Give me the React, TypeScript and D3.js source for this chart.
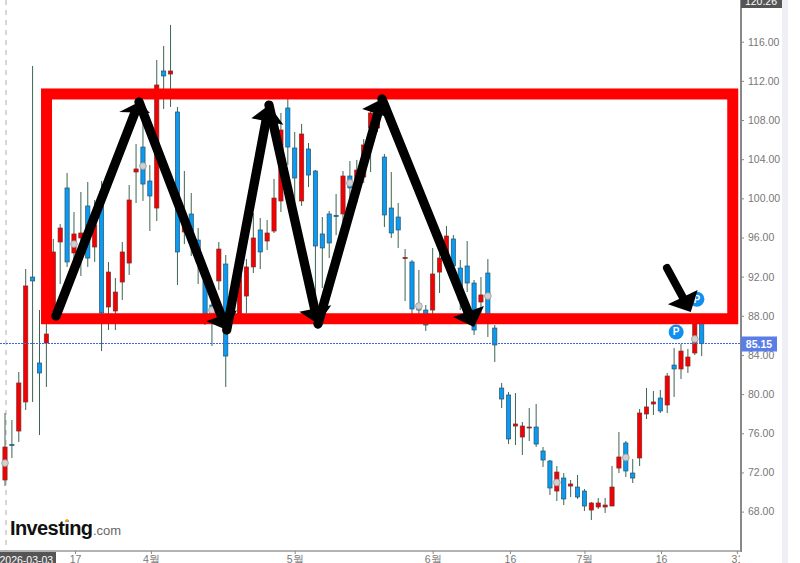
import React, { useEffect, useRef } from 'react';
import * as d3 from 'd3';

// daily candles (red = up, blue = down)
const opens = [
  71.23, 74.85, 76.23, 79.2, 91.96, 83.18, 85.22, 88.39, 95.54, 101.06,
  94.42, 95.95, 99.22, 95.03, 100.65, 88.9, 88.49, 91.45, 93.39, 102.69,
  105.24, 101.77, 99.01, 113.01, 112.7, 108.82, 96.56, 98.4, 95.74, 91.56,
  89.1, 91.56, 93.29, 89.1, 87.98, 90.02, 92.99, 96.77, 95.64, 96.66,
  99.73, 109.23, 105.14, 99.73, 105.04, 102.79, 96.36, 98.4, 98.25, 98.4,
  102.28, 100.85, 102.18, 107.18, 107.18, 104.22, 99.01, 98.09, 93.85, 93.5,
  89.21, 88.59, 88.59, 92.47, 93.7, 95.85, 92.88, 93.09, 91.35, 89.41,
  92.37, 86.75, 80.62, 79.91, 76.74, 75.62, 76.54, 76.64, 74.19, 73.17,
  70.1, 71.43, 70.61, 70.51, 70.1, 68.16, 68.47, 68.47, 68.57, 72.45,
  75.01, 71.94, 73.48, 77.97, 78.99, 79.6, 78.89, 82.97, 82.57, 82.87,
  84.2, 87.9,
];
const closes = [
  74.6, 74.75, 81.14, 91.05, 91.56, 82.16, 86.14, 94.52, 96.97, 93.5,
  96.36, 96.46, 93.9, 97.28, 88.29, 92.47, 90.43, 94.52, 99.83, 103.0,
  101.46, 100.24, 111.58, 112.5, 113.01, 94.52, 97.99, 96.66, 93.5, 87.98,
  88.08, 94.82, 83.89, 89.72, 92.27, 92.99, 95.95, 94.52, 96.46, 100.03,
  106.98, 105.24, 102.08, 106.57, 102.38, 95.13, 94.93, 95.44, 98.15, 102.28,
  101.06, 102.89, 105.45, 108.72, 108.72, 98.3, 96.46, 96.77, 93.95, 88.7,
  88.59, 87.06, 92.27, 93.9, 96.15, 93.09, 89.62, 91.35, 86.55, 90.13,
  88.08, 85.02, 79.5, 75.42, 76.95, 76.74, 76.64, 74.9, 73.27, 70.41,
  72.04, 69.29, 70.82, 69.49, 68.57, 68.88, 68.88, 68.67, 70.51, 73.58,
  72.15, 71.43, 78.07, 78.69, 79.2, 78.28, 81.85, 82.57, 84.4, 83.79,
  87.9, 85.15,
];
const highs = [
  78.07, 77.36, 82.26, 92.78, 113.52, 88.59, 88.39, 95.85, 97.38, 102.59,
  98.6, 100.65, 101.67, 99.83, 101.77, 93.5, 91.86, 95.54, 101.36, 105.55,
  107.98, 103.4, 114.13, 115.56, 117.71, 109.33, 102.79, 100.54, 96.97, 92.68,
  90.64, 95.54, 94.21, 91.45, 93.19, 93.8, 98.5, 97.99, 97.79, 101.98,
  108.72, 110.15, 106.78, 107.59, 105.65, 102.89, 98.09, 98.71, 100.44, 102.79,
  103.81, 103.92, 106.06, 109.23, 109.23, 104.53, 102.69, 99.52, 94.82, 93.7,
  92.68, 89.1, 94.93, 94.93, 97.17, 96.25, 93.7, 95.64, 91.66, 91.96,
  93.8, 87.06, 81.14, 80.22, 80.11, 77.15, 78.58, 78.99, 74.6, 73.27,
  72.66, 71.94, 71.23, 71.74, 70.31, 68.98, 69.39, 69.39, 72.66, 76.13,
  75.21, 73.37, 78.48, 80.62, 80.32, 80.42, 82.16, 84.71, 85.12, 84.61,
  88.0, 88.0,
];
const lows = [
  70.62, 73.48, 75.11, 78.38, 79.2, 75.82, 80.73, 87.98, 91.25, 92.99,
  92.17, 92.07, 92.99, 93.5, 84.4, 86.55, 86.55, 89.62, 92.17, 99.52,
  99.73, 96.66, 97.68, 109.13, 109.33, 91.15, 95.33, 94.11, 91.25, 87.06,
  84.92, 90.64, 80.73, 87.98, 87.57, 88.29, 92.37, 92.78, 94.72, 96.46,
  98.6, 103.4, 99.52, 99.22, 101.16, 88.29, 90.84, 93.9, 96.25, 97.58,
  100.14, 99.52, 101.57, 102.69, 106.78, 97.07, 95.95, 94.93, 89.51, 88.08,
  88.08, 86.45, 88.08, 90.33, 93.19, 91.66, 88.59, 90.43, 86.04, 88.08,
  85.84, 83.28, 78.58, 74.9, 74.8, 73.78, 75.21, 74.6, 72.56, 69.7,
  69.08, 68.67, 69.49, 69.29, 68.06, 67.14, 68.27, 67.86, 68.57, 71.94,
  71.53, 70.92, 72.66, 77.46, 77.87, 78.07, 78.07, 79.71, 81.54, 82.16,
  83.99, 83.89,
];

// grey "D" markers that sit on the candles
const dotIndex = [0, 10, 20, 30, 50, 60, 70, 80, 90, 100];
const dotPrice = [72.96, 95.33, 103.3, 88.59, 101.57, 89.0, 90.02, 70.97, 73.53, 85.63];

// "P" pivot badges
const pivotIndex = [100.3, 97.3];
const pivotPrice = [89.7, 86.35];

const priceTicks = [116, 112, 108, 104, 100, 96, 92, 88, 84, 80, 76, 72, 68];
const timeTickIndex = [10.15, 21.15, 42, 62, 73.2, 84, 95.1, 106.1];
const timeTickLabels = ['17', '4월', '5월', '6월', '16', '7월', '16', '31'];

const lastPrice = 85.15;
const topPrice = '120.26';
const firstDate = '2026-03-03';

// hand drawn box and arrows, as [candle index, price]
const boxLeft = 6.02;
const boxRight = 105.5;
const boxTop = 110.66;
const boxBottom = 87.7;

const arrowStarts = [[7.39, 87.98], [19.43, 109.84], [32.14, 86.55], [38.27, 109.53], [45.38, 87.16], [54.65, 110.15], [95.97, 92.88]];
const arrowTips = [[19.43, 109.84], [32.14, 86.55], [38.27, 109.53], [45.38, 87.16], [54.65, 110.15], [67.99, 86.86], [99.41, 88.39]];
const arrowWingsA = [[16.82, 108.92], [29.43, 87.37], [35.95, 108.31], [42.91, 88.29], [52.04, 109.23], [65.24, 87.78], [96.4, 89.1]];
const arrowWingsB = [[20.88, 108.82], [33.49, 88.39], [40.16, 107.7], [47.12, 88.9], [56.1, 108.31], [69.3, 88.8], [100.32, 90.43]];

const UP = '#f40000';
const DOWN = '#0a9bf0';
const FONT = '"Liberation Sans", Arial, sans-serif';

const x = d3.scaleLinear().domain([0, 101]).range([5, 701.7]);
const y = d3.scaleLinear().domain([116, 68]).range([41.7, 511.6]);

const App: React.FC = () => {
  const yAxisRef = useRef<SVGGElement>(null);
  const xAxisRef = useRef<SVGGElement>(null);

  useEffect(() => {
    const yAxis = d3
      .axisRight(y)
      .tickValues(priceTicks)
      .tickSize(3)
      .tickPadding(4)
      .tickFormat(d => d3.format('.2f')(d as number));
    const yg = d3.select(yAxisRef.current!).call(yAxis as any);
    yg.selectAll('.domain').remove();
    yg.selectAll('line').attr('stroke', '#888');
    yg.selectAll('text').attr('fill', '#777').style('font-size', '10.5px').style('font-family', FONT);

    const xAxis = d3
      .axisBottom(x)
      .tickValues(timeTickIndex)
      .tickSize(3)
      .tickPadding(2)
      .tickFormat((_, i) => timeTickLabels[i]);
    const xg = d3.select(xAxisRef.current!).call(xAxis as any);
    xg.selectAll('.domain').remove();
    xg.selectAll('line').attr('stroke', '#888');
    xg.selectAll('text').attr('fill', '#777').style('font-size', '10.5px').style('font-family', FONT);
  }, []);

  const shaft = (i: number) => {
    const [x0, y0] = [x(arrowStarts[i][0]), y(arrowStarts[i][1])];
    const [x1, y1] = [x(arrowTips[i][0]), y(arrowTips[i][1])];
    const len = Math.hypot(x1 - x0, y1 - y0);
    const t = (len - 10) / len;
    return { x1: x0, y1: y0, x2: x0 + (x1 - x0) * t, y2: y0 + (y1 - y0) * t };
  };

  // wings are pushed out a little from the tip
  const headPoints = (i: number) => {
    const tx = x(arrowTips[i][0]);
    const ty = y(arrowTips[i][1]);
    const wing = (p: number[]) => `${tx + (x(p[0]) - tx) * 1.1},${ty + (y(p[1]) - ty) * 1.1}`;
    return `${wing(arrowWingsA[i])} ${tx},${ty} ${wing(arrowWingsB[i])}`;
  };

  const lastY = Math.floor(y(lastPrice)) + 0.5;

  return (
    <svg
      width={800}
      height={563}
      style={{ position: 'fixed', left: 0, top: 0, background: '#fff' }}
      fontFamily={FONT}
    >
      <defs>
        <clipPath id="time-clip">
          <rect x={0} y={540} width={740} height={23} />
        </clipPath>
      </defs>

      {/* side strip */}
      <rect x={782} y={0} width={6} height={563} fill="#eef0f6" />

      {/* cursor line on the first candle */}
      <line x1={6} x2={6} y1={0} y2={551} stroke="#c9c9c9" strokeWidth={1.5} strokeDasharray="5 5" />

      {/* wicks */}
      {opens.map((_, i) => (
        <line key={i} x1={x(i)} x2={x(i)} y1={y(highs[i])} y2={y(lows[i])} stroke="#3b6650" strokeWidth={1} />
      ))}

      {/* bodies */}
      {opens.map((o, i) => {
        const up = closes[i] >= o;
        const top = y(Math.max(o, closes[i]));
        const bottom = y(Math.min(o, closes[i]));
        return (
          <rect
            key={i}
            x={x(i) - 2.1}
            y={top}
            width={4.2}
            height={Math.max(bottom - top, 1)}
            fill={up ? UP : DOWN}
            stroke={up ? '#7a2a2a' : '#27506e'}
            strokeWidth={0.7}
          />
        );
      })}

      {/* last price line */}
      <line x1={0} x2={741} y1={lastY} y2={lastY} stroke="#3a66e0" strokeWidth={1} strokeDasharray="2 1" />

      {/* markers */}
      {dotIndex.map((d, i) => (
        <circle key={d} cx={x(d)} cy={y(dotPrice[i])} r={3.4} fill="#d0d0d0" stroke="#999" strokeWidth={0.8} />
      ))}
      {pivotIndex.map((d, i) => (
        <g key={d}>
          <circle cx={x(d)} cy={y(pivotPrice[i])} r={7.5} fill="#0f8fef" />
          <text x={x(d)} y={y(pivotPrice[i]) + 3.5} textAnchor="middle" fill="#fff" fontSize={10} fontWeight="bold">P</text>
        </g>
      ))}

      {/* hand drawn box */}
      <rect
        x={x(boxLeft)}
        y={y(boxTop)}
        width={x(boxRight) - x(boxLeft)}
        height={y(boxBottom) - y(boxTop)}
        fill="none"
        stroke="#ff0000"
        strokeWidth={11}
      />

      {/* hand drawn arrows */}
      {arrowTips.map((_, i) => (
        <g key={i}>
          <line {...shaft(i)} stroke="#000" strokeWidth={i === 6 ? 8 : 9.3} strokeLinecap="round" />
          <polygon points={headPoints(i)} fill="#000" />
        </g>
      ))}

      {/* price axis */}
      <line x1={741} x2={741} y1={0} y2={552} stroke="#888" strokeWidth={2} />
      <g ref={yAxisRef} transform="translate(741,0)" />
      <rect x={741} y={-7} width={41} height={15} fill="#555" />
      <text x={761} y={5} textAnchor="middle" fill="#fff" fontSize={10.5}>{topPrice}</text>
      <rect x={741} y={lastY - 7} width={36} height={15} fill="#5b7de8" />
      <text x={759} y={lastY + 4} textAnchor="middle" fill="#fff" fontSize={10.5} fontWeight="bold">{lastPrice.toFixed(2)}</text>

      {/* time axis */}
      <line x1={0} x2={741} y1={551} y2={551} stroke="#999" strokeWidth={1.5} />
      <g clipPath="url(#time-clip)">
        <g ref={xAxisRef} transform="translate(0,551)" />
      </g>
      <rect x={0} y={552} width={56} height={11} fill="#555" />
      <text x={-0.5} y={564} fill="#fff" fontSize={10.5}>{firstDate}</text>

      {/* logo */}
      <text x={10} y={535} fontSize={20} fontWeight="bold" fill="#111" letterSpacing={-0.6}>Investing</text>
      <text x={93} y={535} fontSize={13} fill="#666">.com</text>
      <circle cx={67} cy={520.5} r={1.6} fill="#f5a623" />
    </svg>
  );
};

export default App;
